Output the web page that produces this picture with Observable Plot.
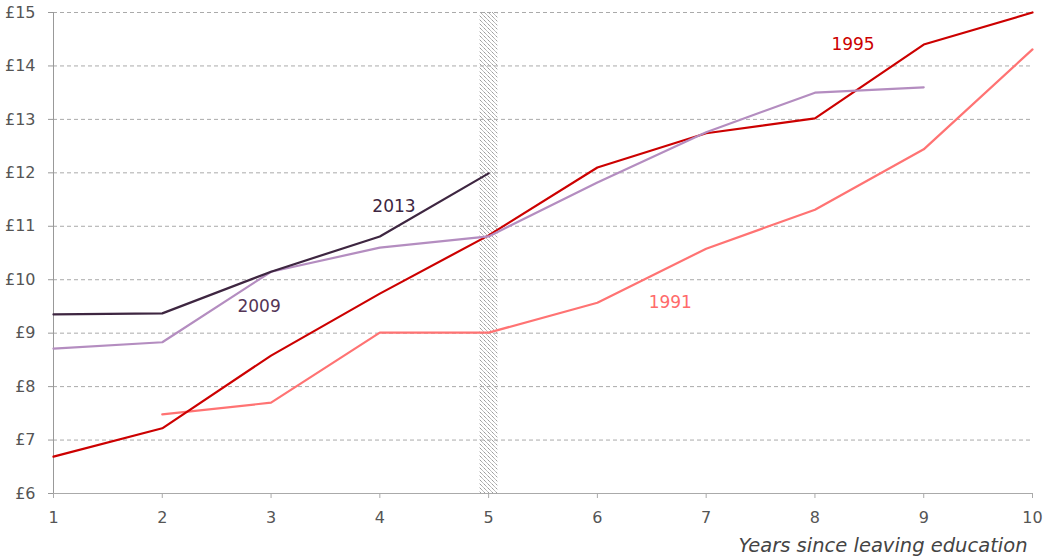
<!DOCTYPE html>
<html>
<head>
<meta charset="utf-8">
<script src="https://cdn.jsdelivr.net/npm/d3@7"></script>
<script src="https://cdn.jsdelivr.net/npm/@observablehq/plot@0.6"></script>
<style>
  html, body { margin: 0; padding: 0; background: #fff; }
  #chart svg { display: block; }
</style>
</head>
<body>
<div id="chart"></div>
<script>
// Data (hourly pay, £) by years since leaving education
const years = [1, 2, 3, 4, 5, 6, 7, 8, 9, 10];
const pay1991 = [null, 7.48, 7.70, 9.01, 9.01, 9.57, 10.58, 11.31, 12.44, 14.31];
const pay1995 = [6.69, 7.22, 8.58, 9.74, 10.83, 12.10, 12.74, 13.02, 14.40, 15.00];
const pay2009 = [8.71, 8.83, 10.15, 10.60, 10.81, 11.82, 12.76, 13.50, 13.60, null];
const pay2013 = [9.35, 9.37, 10.15, 10.81, 11.99, null, null, null, null, null];

const seriesNames = ["1991", "1995", "2009", "2013"];
const seriesColors = ["#ff7373", "#cc0000", "#b48dc0", "#3e2641"];
const labelColors = ["#ff6b6b", "#cc0000", "#543556", "#3e2641"];
const labelX = [6.67, 8.35, 2.89, 4.13];
const labelY = [9.57, 14.40, 9.50, 11.37];

const yTicks = [6, 7, 8, 9, 10, 11, 12, 13, 14, 15];
const gridTicks = [7, 8, 9, 10, 11, 12, 13, 14, 15];
const hatchBand = [{x1: 4.92, x2: 5.085}];
const xTitle = "Years since leaving education";

const allSeries = [pay1991, pay1995, pay2009, pay2013];
const rows = [];
allSeries.forEach((vals, i) => {
  vals.forEach((v, j) => {
    if (v != null) rows.push({series: seriesNames[i], year: years[j], pay: v});
  });
});
const labels = seriesNames.map((s, i) => ({series: s, x: labelX[i], y: labelY[i], color: labelColors[i]}));

const chart = Plot.plot({
  width: 1045,
  height: 558,
  marginLeft: 53,
  marginRight: 13,
  marginTop: 12,
  marginBottom: 65,
  style: {fontFamily: "'DejaVu Sans', sans-serif", fontSize: "16px", color: "#555", background: "#fff"},
  x: {domain: [1, 10]},
  y: {domain: [6, 15]},
  color: {domain: seriesNames, range: seriesColors},
  marks: [
    Plot.rect(hatchBand, {x1: "x1", x2: "x2", y1: 6, y2: 15, fill: "url(#hatch)"}),
    Plot.gridY(gridTicks, {stroke: "#aaa", strokeOpacity: 1, strokeDasharray: "4,3"}),
    Plot.ruleX([1], {stroke: "#999"}),
    Plot.ruleY([6], {stroke: "#aaa"}),
    Plot.axisY({ticks: yTicks, tickSize: 5, tickPadding: 13, tickFormat: d => "£" + d, label: null, stroke: "#999", fill: "#555"}),
    Plot.axisX({ticks: years, tickSize: 5, tickPadding: 13, tickFormat: d => String(d), label: null, stroke: "#aaa", fill: "#555"}),
    Plot.line(rows, {x: "year", y: "pay", z: "series", stroke: "series", strokeWidth: 2.2}),
    Plot.text(labels, {x: "x", y: "y", text: "series", fill: "color", fontSize: 17, textAnchor: "middle", lineAnchor: "middle"}),
    Plot.text([xTitle], {x: 10, y: 6, text: d => d, dx: -5, dy: 52, textAnchor: "end", lineAnchor: "middle", fontSize: 19.5, fontStyle: "italic", fill: "#444"})
  ]
});

chart.insertAdjacentHTML("afterbegin",
  '<defs><pattern id="hatch" patternUnits="userSpaceOnUse" width="4" height="4">' +
  '<rect width="4" height="4" fill="#fff"/>' +
  '<path d="M-1,-1 L5,5 M-1,3 L1,5 M3,-1 L5,1" stroke="#666" stroke-width="0.9" stroke-dasharray="1,0.7"/>' +
  '</pattern></defs>');

document.getElementById("chart").appendChild(chart);
</script>
</body>
</html>
